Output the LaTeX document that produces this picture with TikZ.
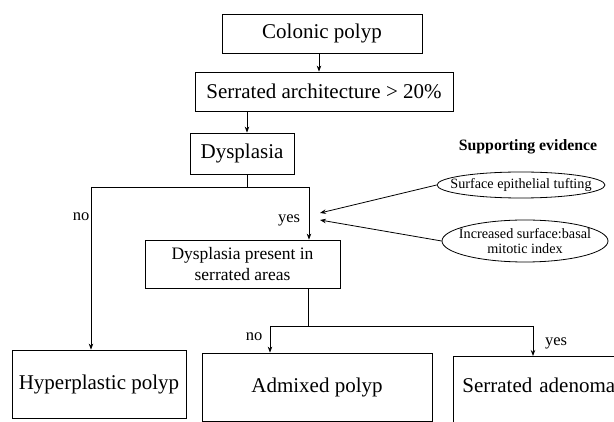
\documentclass[tikz,border=0pt]{standalone}
\usepackage{fontspec}
\setmainfont{Liberation Serif}
\usetikzlibrary{arrows.meta,shapes.geometric}
\begin{document}
\begin{tikzpicture}[x=1pt,y=-1pt,
  box/.style={draw,line width=0.8pt,inner sep=0pt,font=\fontsize{21}{24}\selectfont},
  conn/.style={line width=0.8pt},
  arr/.style={line width=0.8pt,-{Stealth[length=6pt,width=4.5pt]}},
  lab/.style={font=\fontsize{16.5}{18}\selectfont,inner sep=0pt},
  ell/.style={draw,ellipse,line width=0.8pt,inner xsep=-16pt,inner ysep=-4pt,font=\fontsize{14.2}{15.5}\selectfont,align=center}]
\useasboundingbox (0,0) rectangle (614,422);
\clip (0,0) rectangle (614,422);
\fill[white] (0,0) rectangle (614,422);
% boxes
\node[box,minimum width=200pt,minimum height=39pt] (cp) at (322,33.5) {Colonic polyp};
\node[box,minimum width=258pt,minimum height=39pt] (sa) at (324,91.5) {Serrated architecture > 20\%};
\node[box,minimum width=104pt,minimum height=41pt] (dy) at (242,153.5) {Dysplasia};
\node[box,minimum width=195pt,minimum height=48pt,align=center,font=\fontsize{17.5}{21}\selectfont] (dp) at (242.5,264) {Dysplasia present in\\serrated areas};
\node[box,minimum width=174pt,minimum height=68pt] (hp) at (99,384) {Hyperplastic polyp};
\node[box,minimum width=230pt,minimum height=68pt] (ap) at (317,387) {Admixed polyp};
\node[box,anchor=north west,inner xsep=9pt,inner ysep=0pt,text width=180pt,align=left,text height=36pt,text depth=50pt] (sd) at (453,356) {Serrated adenoma};
% supporting evidence
\node[font=\bfseries\fontsize{15.8}{17}\selectfont,inner sep=0pt] (se) at (528,147) {Supporting evidence};
\node[ell,minimum width=168pt,minimum height=26pt] (e1) at (521,185) {Surface epithelial tufting};
\node[ell,minimum width=166pt,minimum height=42pt] (e2) at (525,241) {Increased surface:basal\\mitotic index};
% coordinates
\coordinate (j1) at (247,187);
\coordinate (jl) at (91,187);
\coordinate (jr) at (309,187);
\coordinate (j2) at (308,326);
\coordinate (kl) at (270,326);
\coordinate (kr) at (533,326);
\coordinate (t1) at (320,213);
\coordinate (t2) at (320,220);
% connectors
\draw[arr] (cp.south -| 319,0) -- (sa.north -| 319,0);
\draw[arr] (sa.south -| 247,0) -- (dy.north -| 247,0);
\draw[conn] (dy.south -| j1) -- (j1);
\draw[conn] (jl) -- (jr);
\draw[arr] (jl) -- (hp.north -| jl);
\draw[arr] (jr) -- (dp.north -| jr);
\draw[conn] (dp.south -| j2) -- (j2);
\draw[conn] (kl) -- (kr);
\draw[arr] (kl) -- (ap.north -| kl);
\draw[arr] (kr) -- (sd.north -| kr);
\draw[arr] (e1.west) -- (t1);
\draw[arr] (e2.west) -- (t2);
% labels
\node[lab] (n1) at (81,217) {no};
\node[lab] (y1) at (289,220) {yes};
\node[lab] (n2) at (254,337) {no};
\node[lab] (y2) at (556,343) {yes};
\end{tikzpicture}
\end{document}
